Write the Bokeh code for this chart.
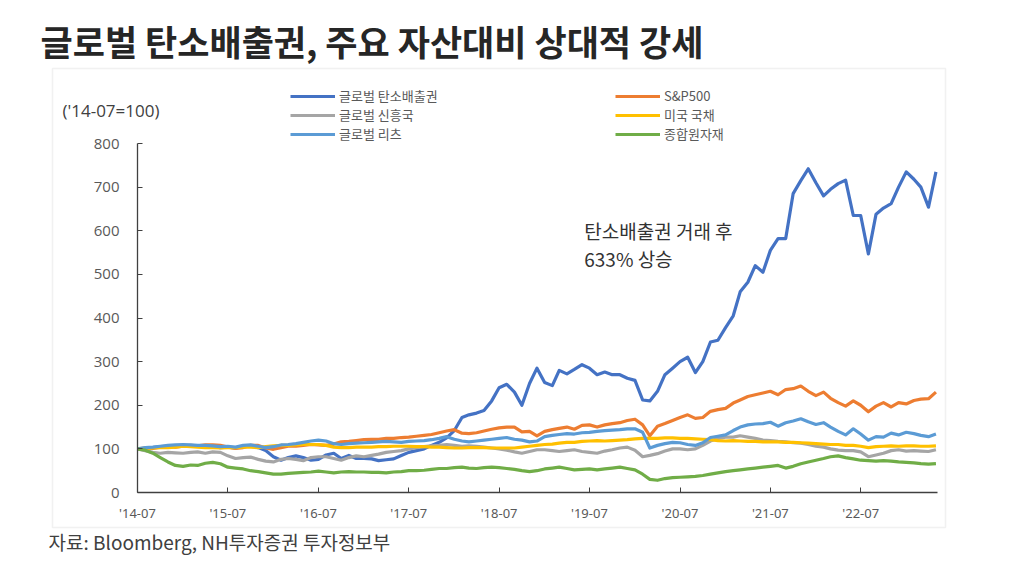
import pandas as pd
from bokeh.plotting import figure
from bokeh.models import (Range1d, FixedTicker, DatetimeTickFormatter, Label,
                          Legend, LegendItem, BoxAnnotation)
from bokeh.embed import file_html
from bokeh.resources import INLINE

# ---------------- data (monthly, index 2014-07 = 100) ----------------
months = pd.date_range("2014-07-01", periods=107, freq="MS")

carbon = [100, 101, 103, 105, 106, 107, 108, 107, 106, 106, 105, 103, 104, 102, 105, 106, 103,
          96, 82, 74, 80, 84, 80, 74, 76, 86, 90, 78, 85, 78, 78, 77, 73, 75, 77, 85,
          92, 96, 100, 108, 115, 125, 142, 172, 178, 182, 188, 210, 240, 248, 230, 200,
          250, 285, 252, 245, 280, 272, 282, 293, 285, 270, 276, 270, 270, 262, 257, 212,
          210, 232, 270, 285, 300, 310, 275, 300, 345, 349, 378, 405, 460, 482, 520, 505,
          555, 582, 582, 685, 715, 742, 710, 680, 695, 708, 716, 635, 635, 547, 638, 652,
          662, 700, 735, 718, 700, 654, 735]

sp500 = [100, 102, 101, 104, 105, 104, 106, 108, 107, 109, 109, 108, 104, 101, 103, 108, 108,
         102, 99, 103, 106, 106, 108, 110, 109, 108, 111, 116, 117, 119, 121, 122, 122, 124,
         124, 126, 127, 129, 131, 133, 137, 141, 144, 136, 135, 137, 141, 145, 148, 150, 150,
         139, 140, 130, 140, 144, 147, 150, 145, 154, 155, 150, 155, 158, 160, 165, 168, 155,
         130, 152, 158, 165, 172, 178, 170, 172, 186, 190, 193, 205, 212, 220, 224, 228, 232,
         224, 236, 238, 244, 232, 222, 230, 216, 206, 198, 210, 200, 185, 198, 206, 196, 206,
         203, 211, 214, 215, 230]

em = [100, 96, 92, 90, 92, 91, 90, 92, 93, 90, 93, 92, 84, 78, 80, 81, 76, 72, 70, 76, 78,
      76, 73, 80, 82, 82, 78, 74, 80, 84, 82, 85, 88, 92, 94, 96, 100, 103, 105, 107, 108,
      110, 108, 106, 107, 106, 104, 102, 100, 97, 93, 90, 94, 98, 98, 96, 94, 96, 98, 94, 92,
      90, 95, 98, 102, 104, 97, 82, 85, 89, 95, 100, 100, 98, 100, 108, 118, 124, 127, 127,
      130, 127, 124, 120, 119, 117, 116, 114, 113, 110, 106, 104, 100, 97, 96, 96, 93, 82,
      86, 90, 96, 98, 95, 96, 95, 94, 98]

treasury = [100, 101, 102, 103, 103, 104, 106, 105, 104, 103, 103, 102, 103, 103, 104, 104,
            103, 105, 107, 108, 108, 109, 110, 110, 110, 108, 104, 103, 103, 104, 104, 104,
            105, 105, 106, 106, 106, 105, 105, 104, 104, 103, 102, 102, 103, 103, 103, 102,
            102, 102, 102, 104, 106, 108, 110, 111, 113, 115, 115, 117, 118, 119, 118, 119,
            120, 121, 123, 124, 124, 124, 125, 125, 124, 124, 123, 122, 121, 119, 118, 119,
            118, 117, 117, 116, 116, 116, 115, 115, 114, 113, 112, 111, 110, 110, 108, 108,
            106, 103, 105, 106, 107, 106, 107, 107, 106, 106, 107]

reits = [100, 103, 104, 106, 108, 109, 110, 109, 108, 108, 107, 105, 106, 104, 108, 109, 106,
         103, 105, 109, 110, 112, 115, 118, 120, 118, 112, 110, 112, 113, 114, 115, 116, 117,
         116, 115, 117, 118, 119, 121, 124, 128, 122, 118, 116, 118, 120, 122, 124, 126, 122,
         120, 116, 118, 128, 131, 133, 135, 134, 137, 138, 140, 142, 143, 144, 146, 146, 138,
         102, 108, 112, 115, 114, 110, 108, 114, 126, 129, 132, 142, 150, 155, 157, 158, 161,
         152, 160, 164, 169, 162, 156, 160, 150, 140, 132, 146, 134, 120, 128, 127, 136, 132,
         138, 135, 131, 128, 134]

commodity = [100, 97, 90, 80, 70, 62, 60, 63, 62, 67, 69, 66, 58, 56, 54, 50, 48, 45, 42, 42,
             44, 45, 46, 47, 49, 47, 45, 47, 48, 47, 47, 46, 46, 45, 47, 48, 50, 50, 51, 53,
             55, 55, 57, 58, 56, 55, 57, 58, 57, 55, 53, 50, 48, 50, 54, 56, 58, 55, 52, 53,
             54, 52, 54, 56, 58, 55, 52, 42, 30, 28, 32, 34, 35, 36, 37, 39, 42, 45, 48, 50,
             52, 54, 56, 58, 60, 62, 56, 60, 66, 70, 74, 78, 82, 84, 80, 77, 74, 73, 72, 73,
             72, 70, 69, 68, 66, 65, 66]

series_names = ["글로벌 탄소배출권", "S&P500", "글로벌 신흥국", "미국 국채", "글로벌 리츠", "종합원자재"]
series_colors = ["#4472C4", "#ED7D31", "#A5A5A5", "#FFC000", "#5B9BD5", "#70AD47"]

y_ticks = [0, 100, 200, 300, 400, 500, 600, 700, 800]
tick_dates = pd.date_range("2014-07-01", periods=9, freq="12MS")
tick_labels = ["'14-07", "'15-07", "'16-07", "'17-07", "'18-07", "'19-07", "'20-07", "'21-07", "'22-07"]

title_text = "글로벌 탄소배출권, 주요 자산대비 상대적 강세"
unit_text = "('14-07=100)"
note_lines = ["탄소배출권 거래 후", "633% 상승"]
source_text = "자료: Bloomberg, NH투자증권 투자정보부"

KFONT = "Noto Sans CJK KR"

# ---------------- geometry (canvas pixels, top-left origin) ----------------
W, H = 1020, 572
AX_L, AX_R, AX_T, AX_B = 137, 937, 143, 492   # axis box of the chart
x0 = pd.Timestamp("2014-07-01")
PX_PER_DAY = 90.4 / 365.25
PX_PER_UNIT = (AX_B - AX_T) / 800.0

def cx_to_date(cx):
    return x0 + pd.Timedelta(days=(cx - AX_L) / PX_PER_DAY)

def cy_to_val(cy):
    return (AX_B - cy) / PX_PER_UNIT

def ms(ts):
    return int(pd.Timestamp(ts).timestamp() * 1000)

# The plot frame covers the whole canvas so nothing decorative gets clipped;
# the axes are pinned inside it with fixed_location / bounds.
p = figure(width=W, height=H, x_axis_type="datetime",
           x_range=Range1d(cx_to_date(0), cx_to_date(W)),
           y_range=Range1d(cy_to_val(H), cy_to_val(0)),
           output_backend="svg", toolbar_location=None,
           min_border=0, min_border_left=0, min_border_right=0,
           min_border_top=0, min_border_bottom=0)
p.xgrid.visible = False
p.ygrid.visible = False
p.outline_line_color = None
p.background_fill_color = "white"
p.border_fill_color = "white"

tick_ms = [ms(d) for d in tick_dates]
p.yaxis.ticker = FixedTicker(ticks=y_ticks)
p.xaxis.ticker = FixedTicker(ticks=tick_ms)
fmt = "'%y-%m"
p.xaxis.formatter = DatetimeTickFormatter(years=fmt, months=fmt, days=fmt, hours=fmt,
                                          minutes=fmt, seconds=fmt, milliseconds=fmt)
p.xaxis.major_label_overrides = {t: lab for t, lab in zip(tick_ms, tick_labels)}

p.yaxis.fixed_location = ms(x0)
p.yaxis.bounds = (0, 800)
p.xaxis.fixed_location = 0
p.xaxis.bounds = (ms(x0), ms(cx_to_date(AX_R)))

for ax in (p.xaxis, p.yaxis):
    ax.axis_line_color = "#404040"
    ax.axis_line_width = 1.3
    ax.major_tick_line_color = "#404040"
    ax.major_tick_in = 5
    ax.major_tick_out = 0
    ax.minor_tick_line_color = None
    ax.major_label_text_color = "#595959"
    ax.major_label_text_font = "Open Sans"
p.yaxis.major_label_text_font_size = "15px"
p.yaxis.major_label_standoff = 18
p.xaxis.major_label_text_font_size = "13px"
p.xaxis.major_label_text_font = "Noto Sans"
p.xaxis.major_label_standoff = 11

# outer light-grey frame around the chart body
p.add_layout(BoxAnnotation(left=52, right=945, top=H - 68, bottom=H - 527,
                           left_units="screen", right_units="screen",
                           top_units="screen", bottom_units="screen",
                           fill_color=None, fill_alpha=0, line_color="#d0d0d0", line_width=1.5))

data = [carbon, sp500, em, treasury, reits, commodity]
renderers = []
for vals, col in zip(data, series_colors):
    r = p.line(months, vals, line_color=col, line_width=3.2, line_join="round")
    renderers.append(r)

# legend: one single-item legend per slot so rows sit exactly
slots = [(0, 290, 96), (2, 290, 115), (4, 290, 134),
         (1, 615, 96), (3, 615, 115), (5, 615, 134)]
ROW_H = 18
for i, gx, gy in slots:
    lg = Legend(items=[LegendItem(label=series_names[i], renderers=[renderers[i]])],
                location=(gx, H - (gy + ROW_H / 2)), orientation="vertical",
                border_line_color=None, background_fill_alpha=0,
                glyph_width=45, glyph_height=ROW_H, label_height=ROW_H,
                spacing=0, padding=0, margin=0, label_standoff=4,
                label_text_font=KFONT, label_text_font_size="13px",
                label_text_color="#595959")
    p.add_layout(lg)

p.add_layout(Label(x=40, y=H - 40, x_units="screen", y_units="screen", text=title_text,
                   text_font=KFONT, text_font_style="bold", text_font_size="35px",
                   text_color="#262626", text_baseline="middle"))
p.add_layout(Label(x=62, y=H - 110, x_units="screen", y_units="screen", text=unit_text,
                   text_font="Open Sans", text_font_size="17px",
                   text_color="#404040", text_baseline="middle"))
p.add_layout(Label(x=48, y=H - 541, x_units="screen", y_units="screen", text=source_text,
                   text_font=KFONT, text_font_size="19px",
                   text_color="#404040", text_baseline="middle"))

note_x = pd.Timestamp("2019-06-10")
for txt, yv in zip(note_lines, [601, 537]):
    p.add_layout(Label(x=note_x, y=yv, text=txt, text_font=KFONT, text_font_size="19px",
                       text_color="#333333", text_baseline="middle"))

open("out.html", "w").write(file_html(p, INLINE))
